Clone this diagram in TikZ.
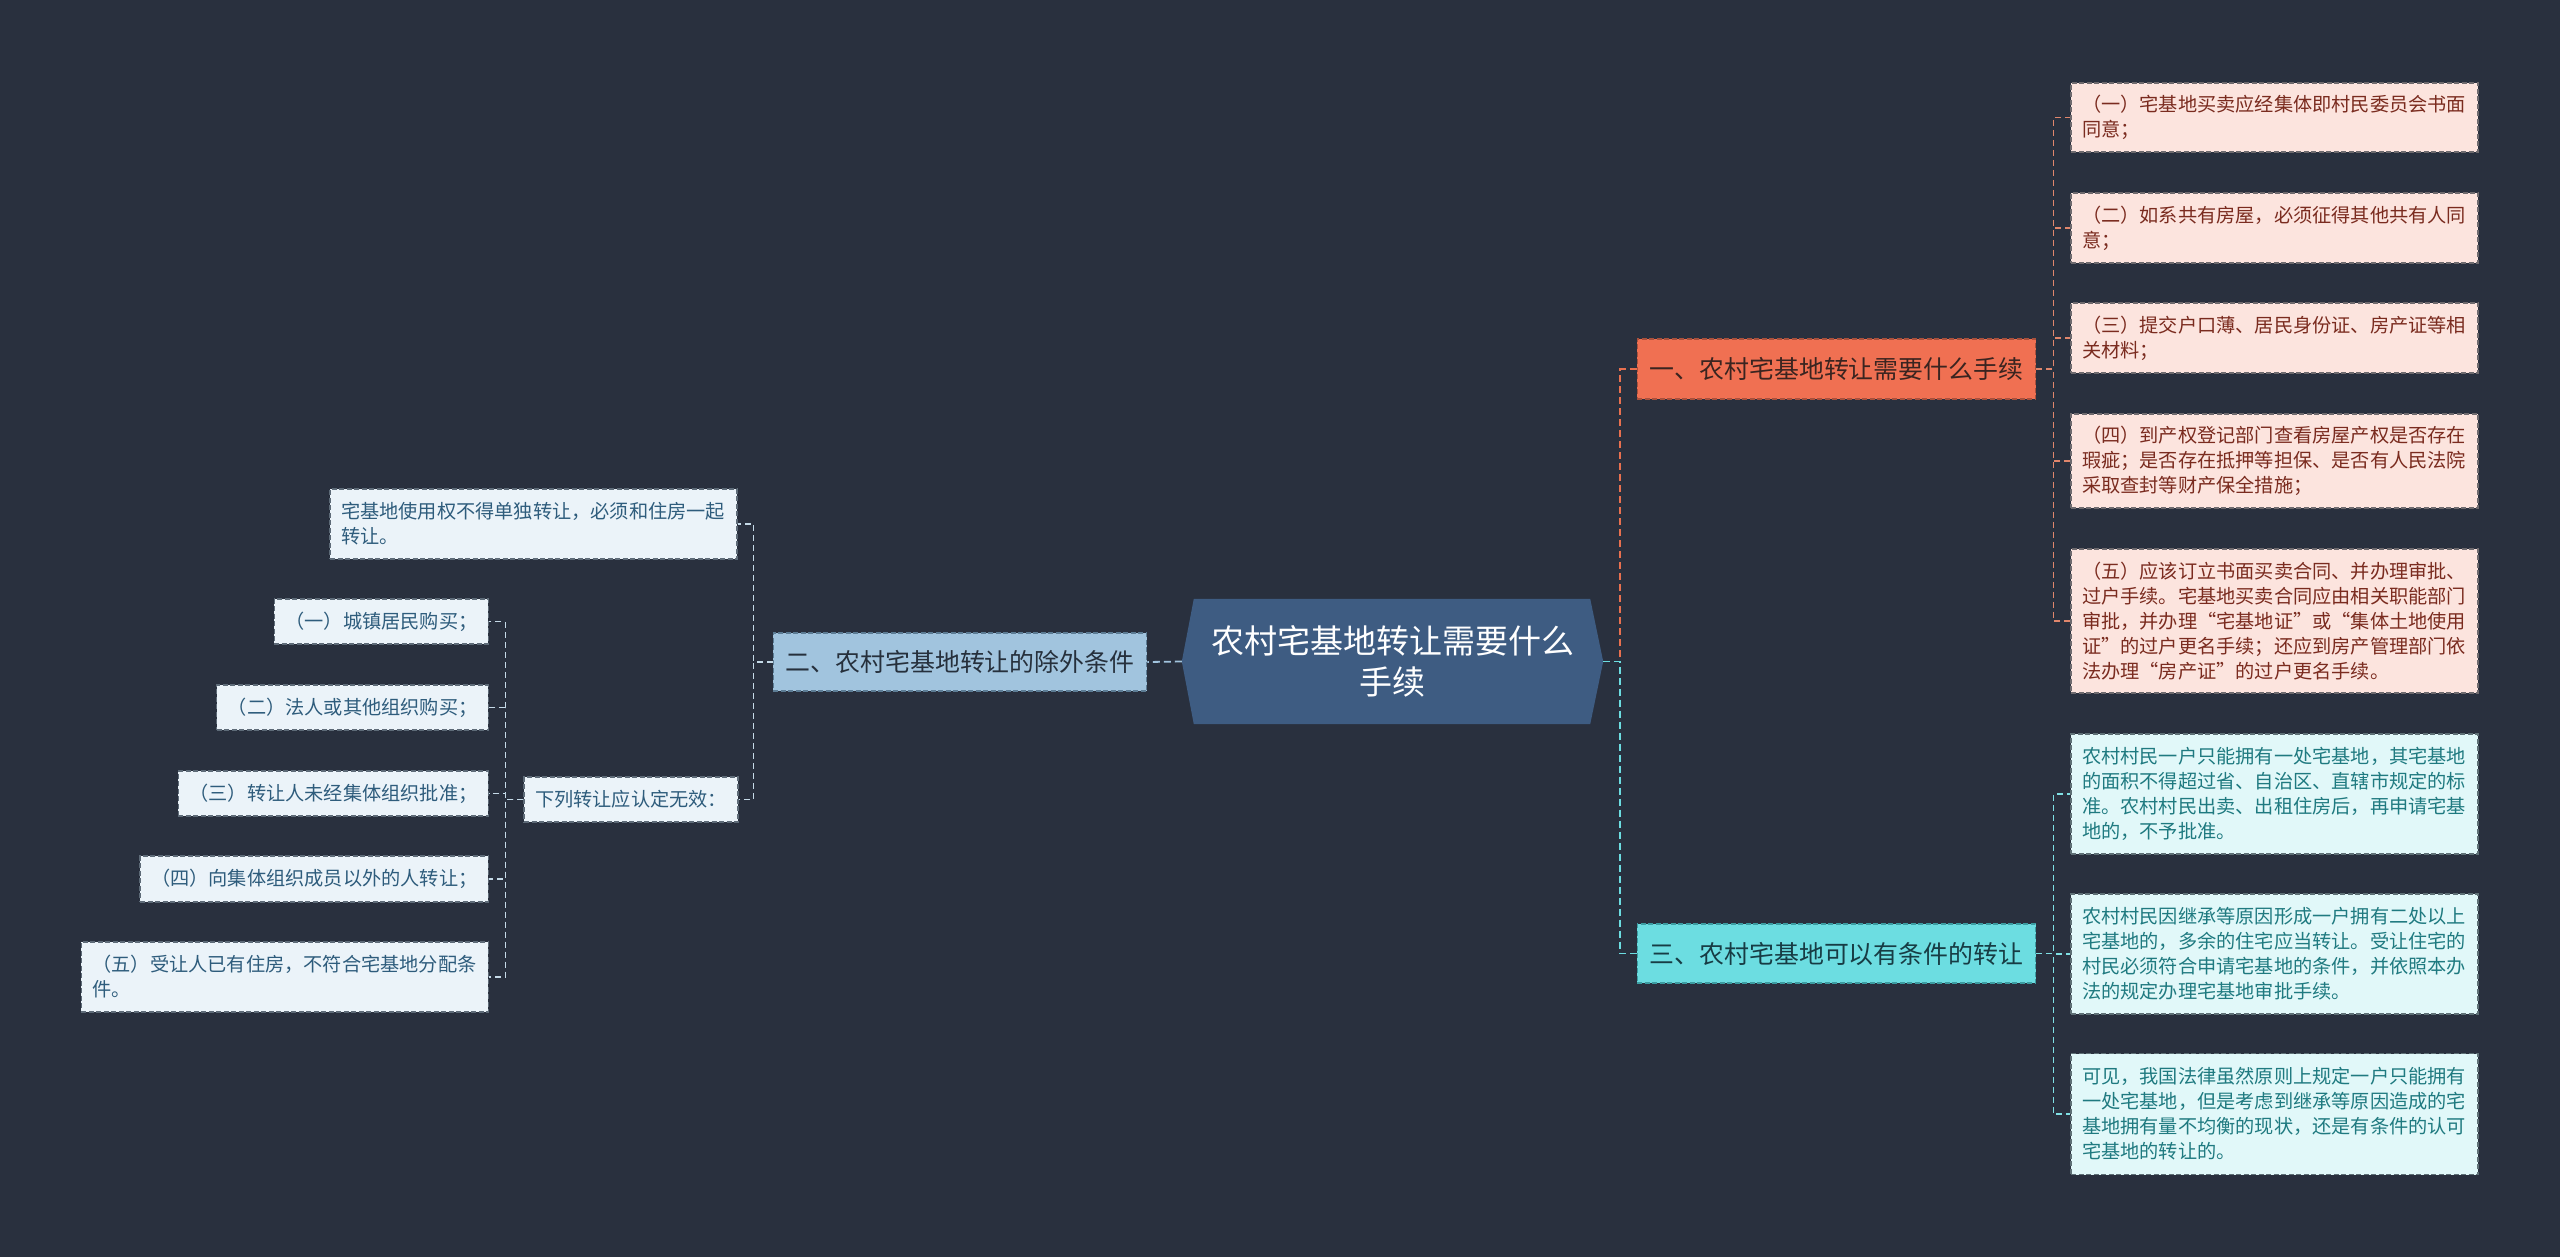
\documentclass[tikz,border=0pt]{standalone}
\usepackage{fontspec}
\setmainfont{Noto Sans CJK SC}
\usetikzlibrary{backgrounds}
\definecolor{bgc}{HTML}{29303E}
\definecolor{hexfill}{HTML}{3E5C82}
\definecolor{bonefill}{HTML}{F07052}
\definecolor{boneline}{HTML}{A9503C}
\definecolor{bonetext}{HTML}{3A2420}
\definecolor{btwofill}{HTML}{A1C4DE}
\definecolor{btwoline}{HTML}{5C7C94}
\definecolor{btwotext}{HTML}{26303C}
\definecolor{bthreefill}{HTML}{6CDDE1}
\definecolor{bthreeline}{HTML}{3C9DA2}
\definecolor{bthreetext}{HTML}{173C44}
\definecolor{pinkfill}{HTML}{FCE4DE}
\definecolor{pinkline}{HTML}{6E6A6E}
\definecolor{pinktext}{HTML}{7A2B1F}
\definecolor{cyanfill}{HTML}{E1F8F9}
\definecolor{cyanline}{HTML}{5E7076}
\definecolor{cyantext}{HTML}{1F7A80}
\definecolor{paleblue}{HTML}{EBF3F9}
\definecolor{palelline}{HTML}{5E6B78}
\definecolor{paletext}{HTML}{2E5C7C}
\definecolor{connone}{HTML}{E8704F}
\definecolor{connthree}{HTML}{6CDDE1}
\definecolor{conntwo}{HTML}{A1C4DE}
\definecolor{pinkconn}{HTML}{E0866C}
\definecolor{cyanconn}{HTML}{7FE0E4}
\definecolor{paleconn}{HTML}{C5DAE8}
\tikzset{
  hexnode/.style={minimum width=421pt, minimum height=125pt, inner sep=0pt,
    text=white, align=center, font=\fontsize{33pt}{41pt}\selectfont},
  branchbox/.style={draw, dash pattern=on 5pt off 2.5pt, line width=1.3pt,
    inner xsep=12.5pt, inner ysep=0pt, font=\fontsize{24.9pt}{30pt}\selectfont},
  bonebox/.style={branchbox, fill=bonefill, draw=boneline, text=bonetext, minimum height=60pt},
  btwobox/.style={branchbox, fill=btwofill, draw=btwoline, text=btwotext, minimum height=58pt},
  bthreebox/.style={branchbox, fill=bthreefill, draw=bthreeline, text=bthreetext, minimum height=59pt},
  leaf/.style={draw, dash pattern=on 5pt off 2.5pt, line width=1.2pt,
    inner xsep=11pt, inner ysep=0pt, align=left,
    font=\fontsize{19.2pt}{25pt}\selectfont},
  wide/.style={text width=385pt},
  pinkleaf/.style={leaf, fill=pinkfill, draw=pinkline, text=pinktext},
  cyanleaf/.style={leaf, fill=cyanfill, draw=cyanline, text=cyantext},
  paleleaf/.style={leaf, fill=paleblue, draw=palelline, text=paletext},
  conn/.style={dash pattern=on 7pt off 4pt, line width=1.8pt},
  subconn/.style={dash pattern=on 6pt off 4pt, line width=1.5pt},
}
\begin{document}
\begin{tikzpicture}[x=1pt,y=-1pt]
\useasboundingbox (0,0) rectangle (2560,1257);
\begin{pgfonlayer}{background}
\fill[bgc] (0,0) rectangle (2560,1257);
\end{pgfonlayer}

% center
\node[hexnode] (c) at (1392.5,661.5) {农村宅基地转让需要什么\\手续};
\begin{pgfonlayer}{background}
\fill[hexfill] ([xshift=12pt]c.north west) -- ([xshift=-13pt]c.north east) -- (c.east)
  -- ([xshift=-13pt]c.south east) -- ([xshift=12pt]c.south west) -- (c.west) -- cycle;
\end{pgfonlayer}

% branches
\node[bonebox] (b1) at (1836.5,369) {一、农村宅基地转让需要什么手续};
\node[btwobox] (b2) at (960,662) {二、农村宅基地转让的除外条件};
\node[bthreebox] (b3) at (1836.5,953.5) {三、农村宅基地可以有条件的转让};

% branch 1 leaves
\node[pinkleaf, wide, minimum height=69pt] (p1) at (2274.5,117.5) {（一）宅基地买卖应经集体即村民委员会书面\\同意；};
\node[pinkleaf, wide, minimum height=70pt] (p2) at (2274.5,228) {（二）如系共有房屋，必须征得其他共有人同\\意；};
\node[pinkleaf, wide, minimum height=70pt] (p3) at (2274.5,338) {（三）提交户口薄、居民身份证、房产证等相\\关材料；};
\node[pinkleaf, wide, minimum height=94pt] (p4) at (2274.5,461) {（四）到产权登记部门查看房屋产权是否存在\\瑕疵；是否存在抵押等担保、是否有人民法院\\采取查封等财产保全措施；};
\node[pinkleaf, wide, minimum height=144pt] (p5) at (2274.5,621) {（五）应该订立书面买卖合同、并办理审批、\\过户手续。宅基地买卖合同应由相关职能部门\\审批，并办理“宅基地证”或“集体土地使用\\证”的过户更名手续；还应到房产管理部门依\\法办理“房产证”的过户更名手续。};

% branch 3 leaves
\node[cyanleaf, wide, minimum height=120pt] (q1) at (2274.5,794) {农村村民一户只能拥有一处宅基地，其宅基地\\的面积不得超过省、自治区、直辖市规定的标\\准。农村村民出卖、出租住房后，再申请宅基\\地的，不予批准。};
\node[cyanleaf, wide, minimum height=120pt] (q2) at (2274.5,954) {农村村民因继承等原因形成一户拥有二处以上\\宅基地的，多余的住宅应当转让。受让住宅的\\村民必须符合申请宅基地的条件，并依照本办\\法的规定办理宅基地审批手续。};
\node[cyanleaf, wide, minimum height=121pt] (q3) at (2274.5,1114) {可见，我国法律虽然原则上规定一户只能拥有\\一处宅基地，但是考虑到继承等原因造成的宅\\基地拥有量不均衡的现状，还是有条件的认可\\宅基地的转让的。};

% branch 2 leaves
\node[paleleaf, wide, minimum height=70pt] (l1) at (533.5,524) {宅基地使用权不得单独转让，必须和住房一起\\转让。};
\node[paleleaf, minimum height=45pt] (l2) at (631,799.5) {下列转让应认定无效：};
\node[paleleaf, minimum height=45pt, anchor=east] (m1) at (489,621.5) {（一）城镇居民购买；};
\node[paleleaf, minimum height=45pt, anchor=east] (m2) at (489,707.5) {（二）法人或其他组织购买；};
\node[paleleaf, minimum height=45pt, anchor=east] (m3) at (489,793.5) {（三）转让人未经集体组织批准；};
\node[paleleaf, minimum height=46pt, anchor=east] (m4) at (489,879) {（四）向集体组织成员以外的人转让；};
\node[paleleaf, wide, minimum height=70pt, anchor=east] (m5) at (489,977) {（五）受让人已有住房，不符合宅基地分配条\\件。};

% connectors: center to branches
\draw[conn, connone] (c.east) -- ++(17,0) |- (b1.west);
\draw[conn, connthree] (c.east) -- ++(17,0) |- (b3.west);
\draw[conn, conntwo] (c.west) -- (b2.east);

% branch 1 to leaves
\foreach \n in {p1,p2,p3,p4,p5}
  \draw[subconn, pinkconn] (b1.east) -- ++(17,0) |- (\n.west);
% branch 3 to leaves
\foreach \n in {q1,q2,q3}
  \draw[subconn, cyanconn] (b3.east) -- ++(17,0) |- (\n.west);
% branch 2 to leaves
\foreach \n in {l1,l2}
  \draw[subconn, paleconn] (b2.west) -- ++(-19,0) |- (\n.east);
\foreach \n in {m1,m2,m3,m4,m5}
  \draw[subconn, paleconn] (l2.west) -- ++(-18,0) |- (\n.east);
\end{tikzpicture}
\end{document}
